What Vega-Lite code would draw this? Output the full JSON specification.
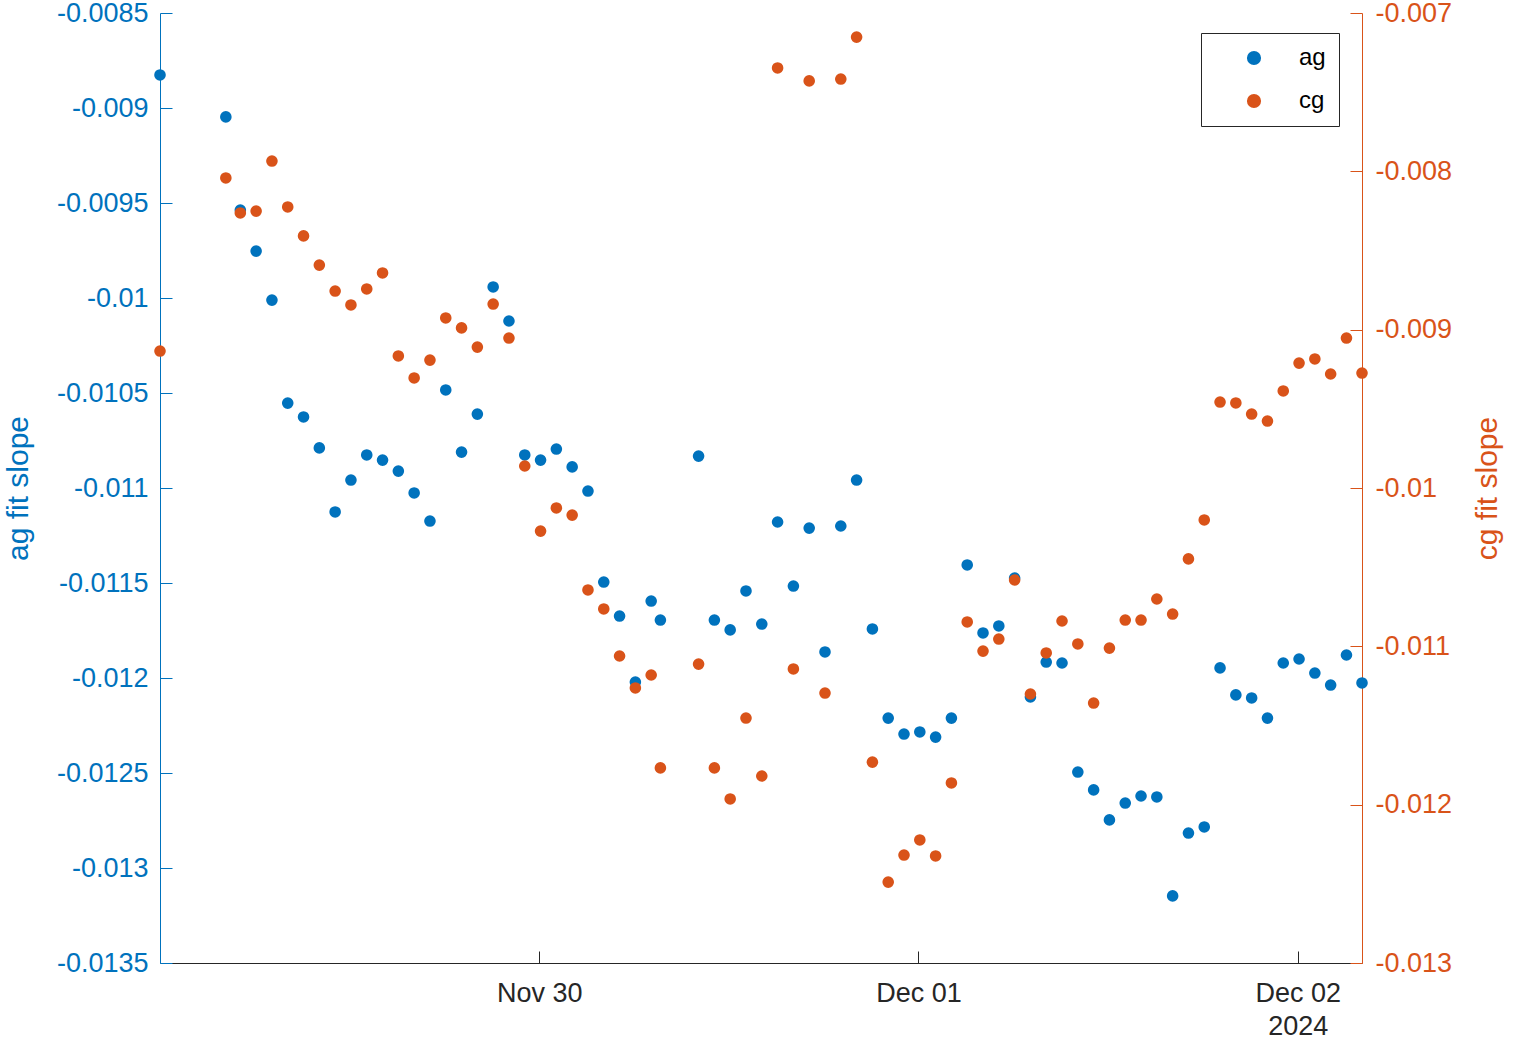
{
  "$schema": "https://vega.github.io/schema/vega-lite/v6.json",
  "width": 1202,
  "height": 950,
  "autosize": {"type": "none"},
  "padding": {"left": 160, "top": 13, "right": 155, "bottom": 77},
  "background": "white",
  "config": {
    "view": {"stroke": null},
    "font": "Liberation Sans",
    "axis": {"grid": false, "labelFont": "Liberation Sans", "titleFont": "Liberation Sans", "labelOverlap": false, "labelBound": false, "labelFlush": false, "titleFontWeight": "normal"}
  },
  "data": {
    "values": [
      {"t": "2024-11-29T00:00:00", "a": -0.008826, "c": -0.009135},
      {"t": "2024-11-29T04:10:00", "a": -0.009047, "c": -0.008042},
      {"t": "2024-11-29T05:05:00", "a": -0.009537, "c": -0.008263},
      {"t": "2024-11-29T06:05:00", "a": -0.009753, "c": -0.008251},
      {"t": "2024-11-29T07:05:00", "a": -0.010011, "c": -0.007935},
      {"t": "2024-11-29T08:05:00", "a": -0.010553, "c": -0.008225},
      {"t": "2024-11-29T09:05:00", "a": -0.010626, "c": -0.008408},
      {"t": "2024-11-29T10:05:00", "a": -0.010789, "c": -0.008592},
      {"t": "2024-11-29T11:05:00", "a": -0.011126, "c": -0.008756},
      {"t": "2024-11-29T12:05:00", "a": -0.010958, "c": -0.008844},
      {"t": "2024-11-29T13:05:00", "a": -0.010826, "c": -0.008743},
      {"t": "2024-11-29T14:05:00", "a": -0.010853, "c": -0.008642},
      {"t": "2024-11-29T15:05:00", "a": -0.010911, "c": -0.009166},
      {"t": "2024-11-29T16:05:00", "a": -0.011026, "c": -0.009305},
      {"t": "2024-11-29T17:05:00", "a": -0.011174, "c": -0.009192},
      {"t": "2024-11-29T18:05:00", "a": -0.010484, "c": -0.008926},
      {"t": "2024-11-29T19:05:00", "a": -0.010811, "c": -0.008989},
      {"t": "2024-11-29T20:05:00", "a": -0.010611, "c": -0.00911},
      {"t": "2024-11-29T21:05:00", "a": -0.009942, "c": -0.008838},
      {"t": "2024-11-29T22:05:00", "a": -0.010121, "c": -0.009053},
      {"t": "2024-11-29T23:05:00", "a": -0.010826, "c": -0.009861},
      {"t": "2024-11-30T00:05:00", "a": -0.010853, "c": -0.010272},
      {"t": "2024-11-30T01:05:00", "a": -0.010795, "c": -0.010126},
      {"t": "2024-11-30T02:05:00", "a": -0.010889, "c": -0.010171},
      {"t": "2024-11-30T03:05:00", "a": -0.011016, "c": -0.010644},
      {"t": "2024-11-30T04:05:00", "a": -0.011495, "c": -0.010764},
      {"t": "2024-11-30T05:05:00", "a": -0.011674, "c": -0.011061},
      {"t": "2024-11-30T06:05:00", "a": -0.012021, "c": -0.011263},
      {"t": "2024-11-30T07:05:00", "a": -0.011595, "c": -0.011181},
      {"t": "2024-11-30T07:40:00", "a": -0.011695, "c": -0.011768},
      {"t": "2024-11-30T10:05:00", "a": -0.010832, "c": -0.011112},
      {"t": "2024-11-30T11:05:00", "a": -0.011695, "c": -0.011768},
      {"t": "2024-11-30T12:05:00", "a": -0.011747, "c": -0.011964},
      {"t": "2024-11-30T13:05:00", "a": -0.011542, "c": -0.011453},
      {"t": "2024-11-30T14:05:00", "a": -0.011716, "c": -0.011819},
      {"t": "2024-11-30T15:05:00", "a": -0.011179, "c": -0.007347},
      {"t": "2024-11-30T16:05:00", "a": -0.011516, "c": -0.011143},
      {"t": "2024-11-30T17:05:00", "a": -0.011211, "c": -0.007429},
      {"t": "2024-11-30T18:05:00", "a": -0.011863, "c": -0.011295},
      {"t": "2024-11-30T19:05:00", "a": -0.0112, "c": -0.007417},
      {"t": "2024-11-30T20:05:00", "a": -0.010958, "c": -0.007152},
      {"t": "2024-11-30T21:05:00", "a": -0.011742, "c": -0.011731},
      {"t": "2024-11-30T22:05:00", "a": -0.012211, "c": -0.012489},
      {"t": "2024-11-30T23:05:00", "a": -0.012295, "c": -0.012318},
      {"t": "2024-12-01T00:05:00", "a": -0.012284, "c": -0.012223},
      {"t": "2024-12-01T01:05:00", "a": -0.012311, "c": -0.012324},
      {"t": "2024-12-01T02:05:00", "a": -0.012211, "c": -0.011863},
      {"t": "2024-12-01T03:05:00", "a": -0.011405, "c": -0.010846},
      {"t": "2024-12-01T04:05:00", "a": -0.011763, "c": -0.01103},
      {"t": "2024-12-01T05:05:00", "a": -0.011726, "c": -0.010954},
      {"t": "2024-12-01T06:05:00", "a": -0.011474, "c": -0.010581},
      {"t": "2024-12-01T07:05:00", "a": -0.0121, "c": -0.011301},
      {"t": "2024-12-01T08:05:00", "a": -0.011916, "c": -0.011042},
      {"t": "2024-12-01T09:05:00", "a": -0.011921, "c": -0.01084},
      {"t": "2024-12-01T10:05:00", "a": -0.012495, "c": -0.010985},
      {"t": "2024-12-01T11:05:00", "a": -0.012589, "c": -0.011358},
      {"t": "2024-12-01T12:05:00", "a": -0.012747, "c": -0.011011},
      {"t": "2024-12-01T13:05:00", "a": -0.012658, "c": -0.010834},
      {"t": "2024-12-01T14:05:00", "a": -0.012621, "c": -0.010834},
      {"t": "2024-12-01T15:05:00", "a": -0.012626, "c": -0.010701},
      {"t": "2024-12-01T16:05:00", "a": -0.013147, "c": -0.010796},
      {"t": "2024-12-01T17:05:00", "a": -0.012816, "c": -0.010448},
      {"t": "2024-12-01T18:05:00", "a": -0.012784, "c": -0.010202},
      {"t": "2024-12-01T19:05:00", "a": -0.011947, "c": -0.009457},
      {"t": "2024-12-01T20:05:00", "a": -0.012089, "c": -0.009463},
      {"t": "2024-12-01T21:05:00", "a": -0.012105, "c": -0.009533},
      {"t": "2024-12-01T22:05:00", "a": -0.012211, "c": -0.009577},
      {"t": "2024-12-01T23:05:00", "a": -0.011921, "c": -0.009387},
      {"t": "2024-12-02T00:05:00", "a": -0.0119, "c": -0.009211},
      {"t": "2024-12-02T01:05:00", "a": -0.011974, "c": -0.009185},
      {"t": "2024-12-02T02:05:00", "a": -0.012037, "c": -0.00928},
      {"t": "2024-12-02T03:05:00", "a": -0.011879, "c": -0.009053},
      {"t": "2024-12-02T04:04:00", "a": -0.012026, "c": -0.009274}
    ]
  },
  "encoding": {
    "x": {
      "field": "t",
      "type": "temporal",
      "scale": {"domain": [{"year": 2024, "month": "nov", "date": 29, "hours": 0}, {"year": 2024, "month": "dec", "date": 2, "hours": 4, "minutes": 4}]},
      "axis": {
        "orient": "bottom",
        "title": null,
        "values": [{"year": 2024, "month": "nov", "date": 30}, {"year": 2024, "month": "dec", "date": 1}, {"year": 2024, "month": "dec", "date": 2}],
        "labelExpr": "month(datum.value) == 11 && date(datum.value) == 2 ? ['Dec 02', '  2024'] : timeFormat(datum.value, '%b %d')",
        "domainColor": "#262626",
        "domainWidth": 1,
        "tickColor": "#262626",
        "tickWidth": 1,
        "tickSize": -12,
        "labelFontSize": 27,
        "labelColor": "#262626",
        "labelPadding": 29,
        "labelLineHeight": 33
      }
    }
  },
  "layer": [
    {
      "mark": {"type": "point", "filled": true, "shape": "circle", "size": 135, "opacity": 1, "strokeWidth": 0},
      "encoding": {
        "y": {
          "field": "a",
          "type": "quantitative",
          "scale": {"domain": [-0.0135, -0.0085], "nice": false, "zero": false},
          "axis": {
            "orient": "left",
            "values": [-0.0135, -0.013, -0.0125, -0.012, -0.0115, -0.011, -0.0105, -0.01, -0.0095, -0.009, -0.0085],
            "labelExpr": "replace(format(datum.value, '.4~f'), '−', '-')",
            "title": "ag fit slope",
            "titleColor": "#0072BD",
            "titleFontSize": 30,
            "titleAngle": 270,
            "titleX": -133,
            "titleY": 475,
            "titleAlign": "center",
            "titleBaseline": "alphabetic",
            "domainColor": "#0072BD",
            "domainWidth": 1,
            "tickColor": "#0072BD",
            "tickWidth": 1,
            "tickSize": -12,
            "labelColor": "#0072BD",
            "labelFontSize": 27,
            "labelPadding": 24
          }
        },
        "color": {
          "datum": "ag",
          "type": "nominal",
          "scale": {"domain": ["ag", "cg"], "range": ["#0072BD", "#D95319"]},
          "legend": {
            "orient": "none",
            "legendX": 1041,
            "legendY": 20,
            "title": null,
            "strokeColor": "#262626",
            "fillColor": "white",
            "padding": 13,
            "symbolOffset": 28,
            "symbolSize": 200,
            "symbolType": "circle",
            "symbolStrokeWidth": 0,
            "labelFont": "Liberation Sans",
            "labelFontSize": 24,
            "labelColor": "black",
            "labelOffset": 33,
            "rowPadding": 19
          }
        }
      }
    },
    {
      "mark": {"type": "point", "filled": true, "shape": "circle", "size": 135, "opacity": 1, "strokeWidth": 0},
      "encoding": {
        "y": {
          "field": "c",
          "type": "quantitative",
          "scale": {"domain": [-0.013, -0.007], "nice": false, "zero": false},
          "axis": {
            "orient": "right",
            "values": [-0.013, -0.012, -0.011, -0.01, -0.009, -0.008, -0.007],
            "labelExpr": "replace(format(datum.value, '.3~f'), '−', '-')",
            "title": "cg fit slope",
            "titleColor": "#D95319",
            "titleFontSize": 30,
            "titleAngle": 270,
            "titleX": 134,
            "titleY": 475,
            "titleAlign": "center",
            "titleBaseline": "alphabetic",
            "domainColor": "#D95319",
            "domainWidth": 1,
            "tickColor": "#D95319",
            "tickWidth": 1,
            "tickSize": -12,
            "labelColor": "#D95319",
            "labelFontSize": 27,
            "labelPadding": 25
          }
        },
        "color": {"datum": "cg", "type": "nominal"}
      }
    }
  ],
  "resolve": {"scale": {"y": "independent"}}
}
